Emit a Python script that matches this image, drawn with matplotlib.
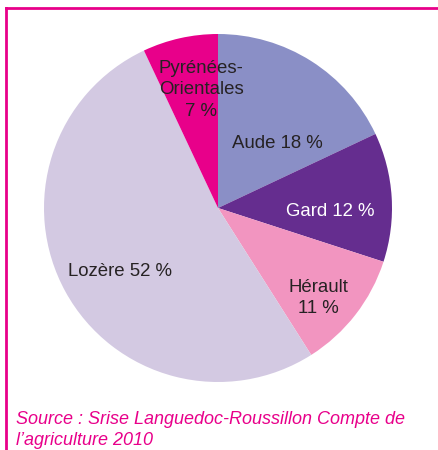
import matplotlib
matplotlib.use("Agg")
import matplotlib.pyplot as plt
from matplotlib.lines import Line2D

# data
regions = ["Aude", "Gard", "Hérault", "Lozère", "Pyrénées-Orientales"]
shares = [18, 12, 11, 52, 7]
labels = ["Aude 18 %", "Gard 12 %", "Hérault\n11 %", "Lozère 52 %", "Pyrénées-\nOrientales\n7 %"]
colors = ["#8a8fc6", "#652d8f", "#f295c0", "#d3c9e2", "#e8008a"]
label_colors = ["#262223", "#ffffff", "#262223", "#262223", "#262223"]
# label centres in pixels (x, y from top)
label_pos = [(277, 144), (330, 211), (318, 298), (120, 272), (201, 90)]

W, H = 438, 450
cx, cy, r = 218, 208, 174

plt.rcParams['font.family'] = ['Liberation Sans', 'DejaVu Sans']
fig = plt.figure(figsize=(W / 100, H / 100), dpi=100)
ax = fig.add_axes([(cx - r) / W, (H - cy - r) / H, 2 * r / W, 2 * r / H])
ax.pie(shares, colors=colors, startangle=90, counterclock=False,
       wedgeprops=dict(linewidth=0))
ax.set_xlim(-1, 1)
ax.set_ylim(-1, 1)
ax.set_aspect('equal')
ax.axis('off')

for lab, (px, py), c in zip(labels, label_pos, label_colors):
    fig.text(px / W, 1 - py / H, lab, ha='center', va='center', color=c,
             fontsize=13.4, linespacing=1.38)

fig.text(16 / W, 1 - 430 / H,
         "Source : Srise Languedoc-Roussillon Compte de\nl\u2019agriculture 2010",
         ha='left', va='center', color='#e8008a', fontsize=13.0,
         style='italic', linespacing=1.35)

# frame
fig.add_artist(Line2D([6 / W, 6 / W], [0, 1 - 8 / H], color='#e8008a', linewidth=2,
                      transform=fig.transFigure))
fig.add_artist(Line2D([6 / W, 1], [1 - 8 / H, 1 - 8 / H], color='#e8008a', linewidth=2,
                      transform=fig.transFigure))

fig.savefig("out.png", dpi=100)
